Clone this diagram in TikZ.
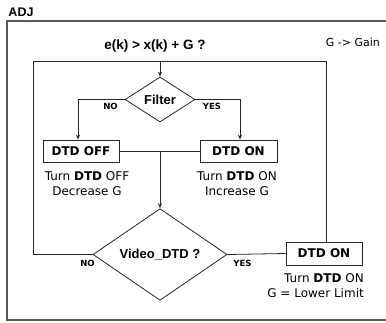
\documentclass[tikz,border=0pt]{standalone}
\usepackage{fontspec}
\setmainfont{Liberation Sans}
\newfontfamily\verd{DejaVu Sans}
\usetikzlibrary{shapes.geometric,arrows.meta}
\tikzset{
  ln/.style={draw=black!85, line width=0.8pt},
  arr/.style={ln, -{Stealth[length=5pt,width=4pt]}},
  frame/.style={draw=black!65, line width=1.6pt},
  dia/.style={diamond, draw=black!85, line width=0.8pt, inner sep=0pt, font=\fontsize{13}{15}\selectfont\bfseries},
  box/.style={rectangle, draw=black!85, line width=0.8pt, inner sep=0pt, minimum height=22pt, font=\verd\fontsize{12}{14}\selectfont\bfseries},
  desc/.style={font=\verd\fontsize{12}{15}\selectfont, align=center, inner sep=0pt},
  yn/.style={font=\verd\fontsize{8.5}{10}\selectfont\bfseries, inner sep=0pt},
}
\begin{document}
\begin{tikzpicture}[x=1pt,y=-1pt]
\useasboundingbox (0,0) rectangle (386,322);
% outer frame
\coordinate (ftr) at (390,21);
\coordinate (ftl) at (7,21);
\coordinate (fbl) at (7,320);
\coordinate (fbr) at (390,320);
\draw[frame] (ftr) -- (ftl) -- (fbl) -- (fbr);
\node[font=\fontsize{12.5}{14}\selectfont\bfseries, inner sep=0pt] (adj) at (21,12) {ADJ};
\node[font=\fontsize{13.5}{16}\selectfont\bfseries, inner sep=0pt] (cond) at (155,46) {e(k) > x(k) + G ?};
\node[font=\verd\fontsize{11}{14}\selectfont, inner sep=0pt, anchor=east] (gain) at (380,42) {G -> Gain};
% nodes
\node[dia, minimum width=70pt, minimum height=45pt] (filter) at (160,99.5) {Filter};
\node[dia, minimum width=134pt, minimum height=61pt] (video) at (160,254.5) {Video\_DTD ?};
\node[box, minimum width=76pt] (dtdoff) at (81,151) {DTD OFF};
\node[box, minimum width=77pt] (dtdon) at (238.5,151) {DTD ON};
\node[box, minimum width=76pt, minimum height=23pt] (dtdon2) at (324,253.5) {DTD ON};
\node[desc] (doff) at (87,184) {Turn \textbf{DTD} OFF\\Decrease G};
\node[desc] (don) at (237,184) {Turn \textbf{DTD} ON\\Increase G};
\node[desc, align=right, anchor=east] (don2) at (364,286) {Turn \textbf{DTD} ON\\G = Lower Limit};
\node[yn] (no1) at (110.5,106) {NO};
\node[yn] (yes1) at (212,106) {YES};
\node[yn] (no2) at (87.5,263) {NO};
\node[yn] (yes2) at (242.5,263) {YES};
% loop
\coordinate (tl) at (33,61);
\coordinate (tr) at (326,61);
\coordinate (mid) at (160,151);
\draw[ln] (video.west) -| (tl) -- (tr) -- (tr |- dtdon2.north);
\draw[arr] (filter.north |- tl) -- (filter.north);
\draw[arr] (filter.west) -| ([xshift=-3pt]dtdoff.north);
\draw[arr] (filter.east) -| ([xshift=1.5pt]dtdon.north);
\draw[ln] (dtdoff.east) -- (dtdon.west);
\draw[arr] (mid) -- (video.north);
\draw[ln] (video.east) -- (dtdon2.west);
\end{tikzpicture}
\end{document}
